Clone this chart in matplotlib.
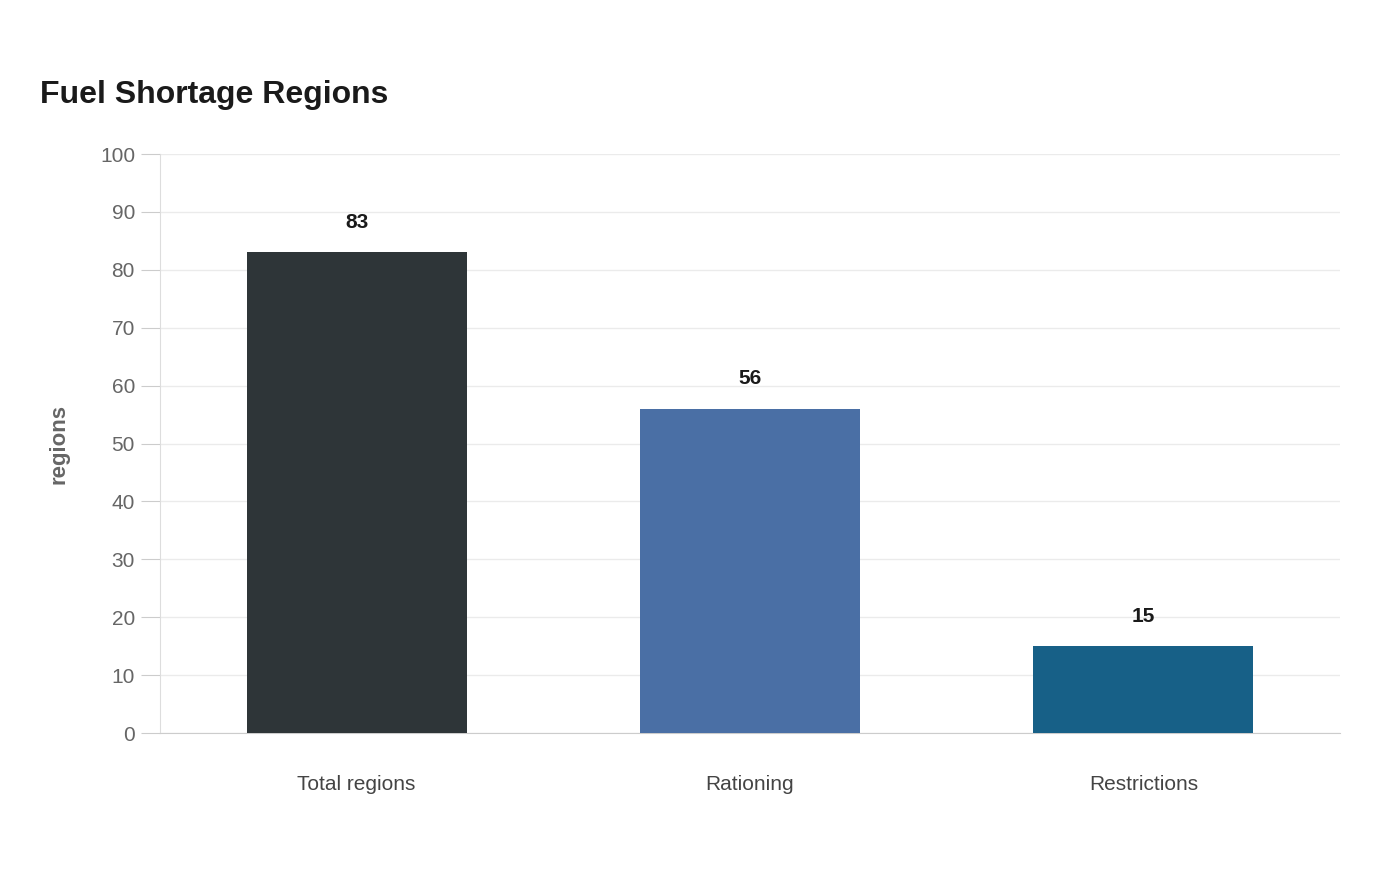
import matplotlib
matplotlib.use('Agg')
import matplotlib.pyplot as plt

categories = ['Total regions', 'Rationing', 'Restrictions']
values = [83, 56, 15]
colors = ['#2e3538', '#4a6fa5', '#176087']

plt.rcParams['font.family'] = ['Liberation Sans', 'DejaVu Sans']

fig = plt.figure(figsize=(14, 8.8), dpi=100, facecolor='white')
ax = fig.add_axes([160/1400, 1-733/880, 1180/1400, (733-154)/880])

x = range(len(categories))
ax.bar(x, values, width=0.56, color=colors, zorder=3)
for xi, v in zip(x, values):
    ax.text(xi, v + 3.5, str(v), ha='center', va='bottom', fontsize=15,
            fontweight='bold', color='#1a1a1a')

ax.set_xlim(-0.5, 2.5)
ax.set_ylim(0, 100)
ax.set_yticks(range(0, 101, 10))
ax.set_xticks(list(x))
ax.set_xticklabels(categories, fontsize=15, color='#444444')
ax.tick_params(axis='y', labelsize=15, labelcolor='#666666', color='#cccccc', length=14, pad=4)
ax.tick_params(axis='x', length=0, pad=30)
ax.grid(axis='y', color='#ebebeb', lw=1, zorder=0)
for s in ['top', 'right']:
    ax.spines[s].set_visible(False)
ax.spines['left'].set_color('#dddddd')
ax.spines['bottom'].set_color('#cccccc')
ax.set_ylabel('regions', fontsize=16, fontweight='bold', color='#666666', labelpad=22)

fig.text(40/1400, 1-95/880, 'Fuel Shortage Regions', fontsize=23, fontweight='bold',
         color='#1a1a1a', va='center', ha='left')

fig.savefig('out.png', dpi=100, facecolor='white')
